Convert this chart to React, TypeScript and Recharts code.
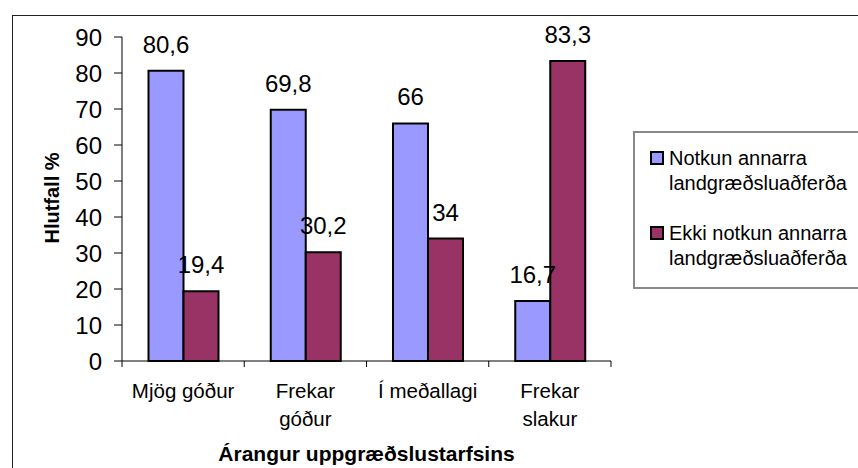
import { BarChart, Bar, XAxis, YAxis, LabelList, Label } from "recharts";

const categories = ["Mjög góður", "Frekar\ngóður", "Í meðallagi", "Frekar\nslakur"];
const notkun = [80.6, 69.8, 66, 16.7];
const ekkiNotkun = [19.4, 30.2, 34, 83.3];
const yTicks = [0, 10, 20, 30, 40, 50, 60, 70, 80, 90];
const seriesNames = ["Notkun annarra landgræðsluaðferða", "Ekki notkun annarra landgræðsluaðferða"];
const seriesColors = ["#9999FF", "#993366"];
const xTitle = "Árangur uppgræðslustarfsins";
const yTitle = "Hlutfall %";

const data = categories.map((cat, i) => ({
  cat,
  notkun: notkun[i],
  ekki: ekkiNotkun[i],
}));

const FONT = '"Liberation Sans", Arial, sans-serif';

// Excel style: tick marks between categories, labels may wrap
const CategoryTick = (props: any) => {
  const { x, y, payload, index, visibleTicksCount, width } = props;
  const half = payload.offset ?? width / visibleTicksCount / 2;
  const lines = String(payload.value).split("\n");
  return (
    <g>
      <line x1={x - half} x2={x - half} y1={y} y2={y + 6} stroke="#000" />
      {index === visibleTicksCount - 1 && (
        <line x1={x + half} x2={x + half} y1={y} y2={y + 6} stroke="#000" />
      )}
      <text x={x} y={y + 37} textAnchor="middle" fontSize={20.5} fill="#000">
        {lines.map((l, i) => (
          <tspan key={i} x={x} dy={i === 0 ? 0 : 27.6}>
            {l}
          </tspan>
        ))}
      </text>
    </g>
  );
};

const fmt = (v: any) => String(v).replace(".", ",");

// legend drawn as a plain box, Excel keeps series order
const LegendBox = () => (
  <div
    style={{
      position: "absolute",
      left: 625,
      top: 123,
      boxSizing: "border-box",
      width: 240,
      height: 158,
      border: "2px solid #888",
      background: "#fff",
      paddingTop: 12.5,
      fontSize: 20,
      lineHeight: "25px",
      color: "#000",
    }}
  >
    {seriesNames.map((name, i) => (
      <div key={name} style={{ position: "relative", paddingLeft: 34, marginBottom: 25, width: 186 }}>
        <span
          style={{
            position: "absolute",
            left: 15,
            top: 5,
            width: 14,
            height: 14,
            boxSizing: "border-box",
            border: "2px solid #000",
            background: seriesColors[i],
          }}
        />
        {name}
      </div>
    ))}
  </div>
);

export default function App() {
  return (
    <div
      style={{
        position: "absolute",
        left: 8,
        top: 8,
        width: 850,
        height: 460,
        overflow: "hidden",
        background: "#fff",
        fontFamily: FONT,
      }}
    >
      <div
        style={{
          position: "absolute",
          left: 4,
          top: 7,
          width: 900,
          height: 500,
          borderLeft: "1px solid #222",
          borderTop: "1px solid #222",
        }}
      />
      <BarChart
        width={850}
        height={460}
        data={data}
        margin={{ top: 29, right: 247, bottom: 0, left: 54 }}
        barCategoryGap={26.5}
        barGap={0}
        style={{ fontFamily: FONT }}
      >
        <XAxis
          dataKey="cat"
          height={107}
          axisLine={{ stroke: "#000" }}
          tickLine={false}
          tickSize={0}
          tickMargin={0}
          interval={0}
          tick={<CategoryTick />}
        >
          <Label
            content={({ viewBox }: any) => (
              <text
                x={viewBox.x + viewBox.width / 2}
                y={viewBox.y + 100}
                textAnchor="middle"
                fontSize={21}
                fontWeight="bold"
                fill="#000"
              >
                {xTitle}
              </text>
            )}
          />
        </XAxis>
        <YAxis
          width={60}
          domain={[0, 90]}
          ticks={yTicks}
          interval={0}
          axisLine={{ stroke: "#000" }}
          tickLine={{ stroke: "#000" }}
          tickSize={8}
          tickMargin={12}
          tick={{ fill: "#000", fontSize: 24 }}
        >
          <Label
            content={({ viewBox }: any) => {
              const cx = viewBox.x - 3;
              const cy = viewBox.y + viewBox.height / 2 - 1;
              return (
                <text
                  x={cx}
                  y={cy}
                  textAnchor="middle"
                  fontSize={20}
                  fontWeight="bold"
                  fill="#000"
                  transform={`rotate(-90, ${cx}, ${cy})`}
                >
                  {yTitle}
                </text>
              );
            }}
          />
        </YAxis>
        <Bar
          dataKey="notkun"
          name={seriesNames[0]}
          fill={seriesColors[0]}
          stroke="#000"
          strokeWidth={2}
          isAnimationActive={false}
        >
          <LabelList dataKey="notkun" position="top" offset={18} fontSize={24} fill="#000" formatter={fmt} />
        </Bar>
        <Bar
          dataKey="ekki"
          name={seriesNames[1]}
          fill={seriesColors[1]}
          stroke="#000"
          strokeWidth={2}
          isAnimationActive={false}
        >
          <LabelList dataKey="ekki" position="top" offset={18} fontSize={24} fill="#000" formatter={fmt} />
        </Bar>
      </BarChart>
      <LegendBox />
    </div>
  );
}
